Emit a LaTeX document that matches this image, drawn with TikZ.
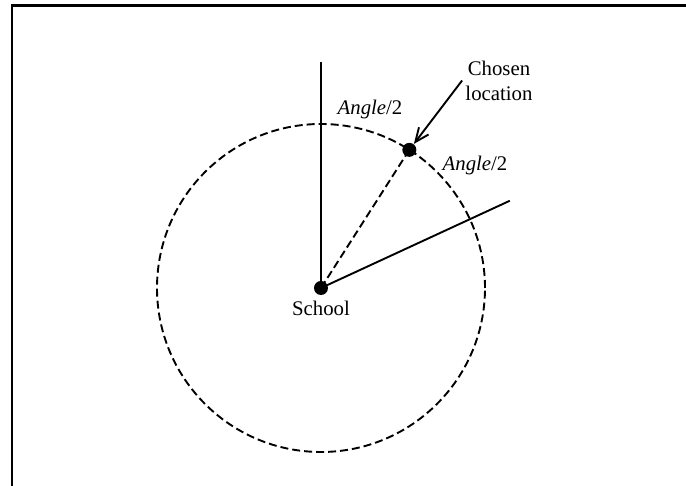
\documentclass[tikz,border=0pt]{standalone}
\usepackage{fontspec}
\setmainfont{Liberation Serif}
\usepackage{tikz}
\usetikzlibrary{positioning}
\usetikzlibrary{arrows.meta}

\tikzset{
    dot/.style={circle, fill, inner sep=0pt, minimum size=7pt},
    guide/.style={line width=0.95pt},
    ring/.style={line width=0.95pt, dash pattern=on 4pt off 2pt},
    lbl/.style={inner sep=0pt, font=\fontsize{10.4}{12.5}\selectfont},
}

\begin{document}
\begin{tikzpicture}[x=0.5pt, y=0.5pt]
    \useasboundingbox (-321,-198) rectangle (365,288);

    % frame edges
    \coordinate (fbl) at (-309,-198);
    \coordinate (ftl) at (-309,282.5);
    \coordinate (ftr) at (365,282.5);
    \draw[line width=1.1pt] (fbl) -- (ftl) -- (ftr);

    \node [dot] (school) at (0,0) {};
    \coordinate (up) at (90:226);
    \coordinate (side) at (24.8:208);
    \node [dot] (chosen) at (57.4:164) {};

    \node [lbl, below=2.4pt of school] (schoollbl) {School};
    \node [lbl] (halfa) at (49,178) {\textit{Angle}/2};
    \node [lbl] (halfb) at (154,122) {\textit{Angle}/2};
    \node [lbl, inner sep=1.5pt, align=center] (chosenlbl) at (178,207.5) {Chosen\\location};

    \draw[ring] (school.center) circle (164);
    \draw[guide] (school.center) -- (up);
    \draw[guide] (school.center) -- (side);
    \draw[ring] (school.center) -- (chosen.center);
    \draw[guide, -{Straight Barb[length=7pt, width=6pt]}] (chosenlbl.west) -- (chosen);

\end{tikzpicture}
\end{document}
